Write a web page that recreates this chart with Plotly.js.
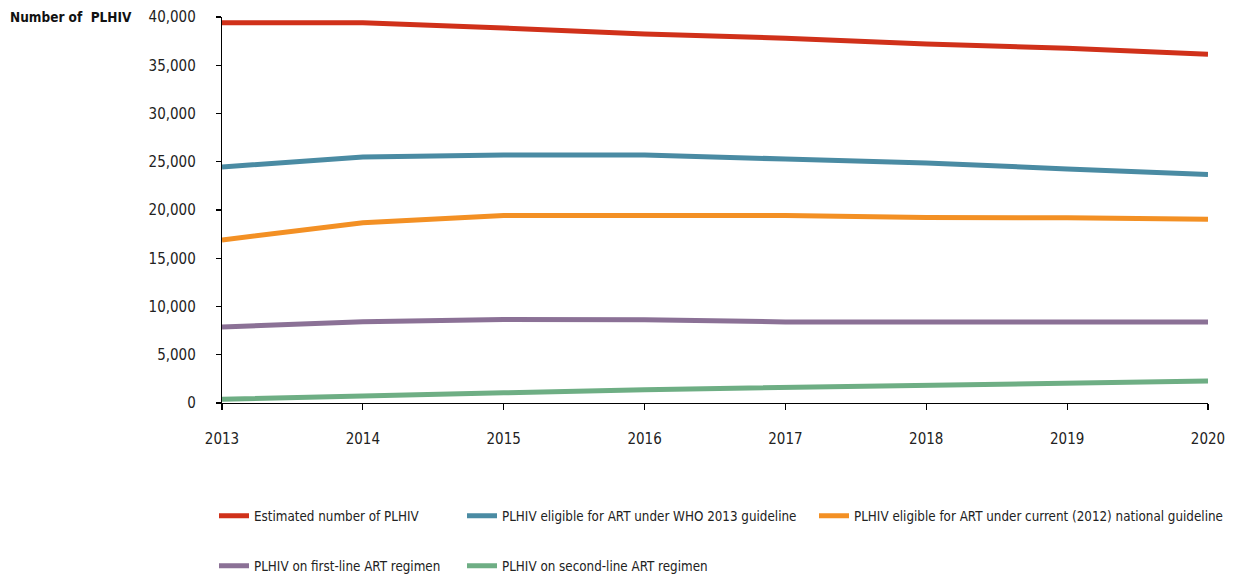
<!DOCTYPE html>
<html>
<head>
<meta charset="utf-8">
<script src="https://cdn.plot.ly/plotly-3.0.1.min.js"></script>
<style>html,body{margin:0;padding:0;background:#fff;}#chart{width:1236px;height:578px;}</style>
</head>
<body>
<div id="chart"></div>
<script>
const years = [2013, 2014, 2015, 2016, 2017, 2018, 2019, 2020];
const seriesNames = [
  "Estimated number of PLHIV",
  "PLHIV eligible for ART under WHO 2013 guideline",
  "PLHIV eligible for ART under current (2012) national guideline",
  "PLHIV on first-line ART regimen",
  "PLHIV on second-line ART regimen"
];
const estimatedPLHIV = [39400, 39400, 38850, 38230, 37800, 37200, 36750, 36150];
const eligibleWHO2013 = [24450, 25500, 25700, 25700, 25280, 24860, 24260, 23690];
const eligibleNational2012 = [16900, 18680, 19430, 19430, 19420, 19220, 19200, 19050];
const firstLineART = [7870, 8420, 8650, 8620, 8400, 8400, 8400, 8400];
const secondLineART = [380, 760, 1060, 1380, 1580, 1850, 2080, 2280];
const yTickVals = [0, 5000, 10000, 15000, 20000, 25000, 30000, 35000, 40000];
const yTickText = ["0", "5,000", "10,000", "15,000", "20,000", "25,000", "30,000", "35,000", "40,000"];
const yAxisTitle = "Number of  PLHIV";

const colors = ["#D0311A", "#4A8BA3", "#F39024", "#8B7196", "#6EAE84"];
const values = [estimatedPLHIV, eligibleWHO2013, eligibleNational2012, firstLineART, secondLineART];
const legendIds = ["legend", "legend2", "legend3", "legend4", "legend5"];

const FONT = "DejaVu Sans Condensed, sans-serif";

const traces = values.map((v, i) => ({
  x: years, y: v, type: "scatter", mode: "lines",
  name: seriesNames[i],
  line: {color: colors[i], width: 5},
  legend: legendIds[i],
  hoverinfo: "x+y"
}));

// plot area px: x 222..1208, y 17..403
const W = 986, H = 386;
function lx(px){ return (px - 222) / W; }
function ly(py){ return (403 - py) / H; }
const legendPos = [[222, 516], [470, 516], [822, 516], [222, 566], [470, 566]];
const legendFont = {family: FONT, size: 13.3, color: "#222"};

const layout = {
  width: 1236, height: 578,
  margin: {l: 222, r: 28, t: 17, b: 175, autoexpand: false},
  paper_bgcolor: "#fff", plot_bgcolor: "#fff",
  showlegend: true,
  font: {family: FONT, size: 15, color: "#222"},
  xaxis: {
    range: [2013, 2020], tickvals: years, ticktext: years.map(String),
    showgrid: false, zeroline: false, showline: true, linecolor: "#000", linewidth: 1.2,
    ticks: "outside", ticklen: 6, tickcolor: "#000", tickwidth: 1.2,
    ticklabelstandoff: 16,
    tickfont: {family: FONT, size: 15, color: "#222"}
  },
  yaxis: {
    range: [0, 40000], tickvals: yTickVals, ticktext: yTickText,
    showgrid: false, zeroline: false, showline: true, linecolor: "#000", linewidth: 1.2,
    ticks: "outside", ticklen: 5, tickcolor: "#000", tickwidth: 1.2,
    ticklabelstandoff: 17,
    tickfont: {family: FONT, size: 15, color: "#222"}
  },
  annotations: [{
    text: "<b>" + yAxisTitle + "</b>", xref: "paper", yref: "paper",
    x: lx(8), y: ly(17), xanchor: "left", yanchor: "middle", showarrow: false,
    font: {family: FONT, size: 13.5, color: "#111"}
  }]
};
legendIds.forEach((id, i) => {
  layout[id] = {
    x: lx(legendPos[i][0] - 8), y: ly(legendPos[i][1]),
    xanchor: "left", yanchor: "middle", orientation: "v",
    bgcolor: "rgba(0,0,0,0)", borderwidth: 0,
    font: legendFont, itemwidth: 30
  };
});

Plotly.newPlot("chart", traces, layout, {displayModeBar: false, staticPlot: true});
</script>
</body>
</html>
